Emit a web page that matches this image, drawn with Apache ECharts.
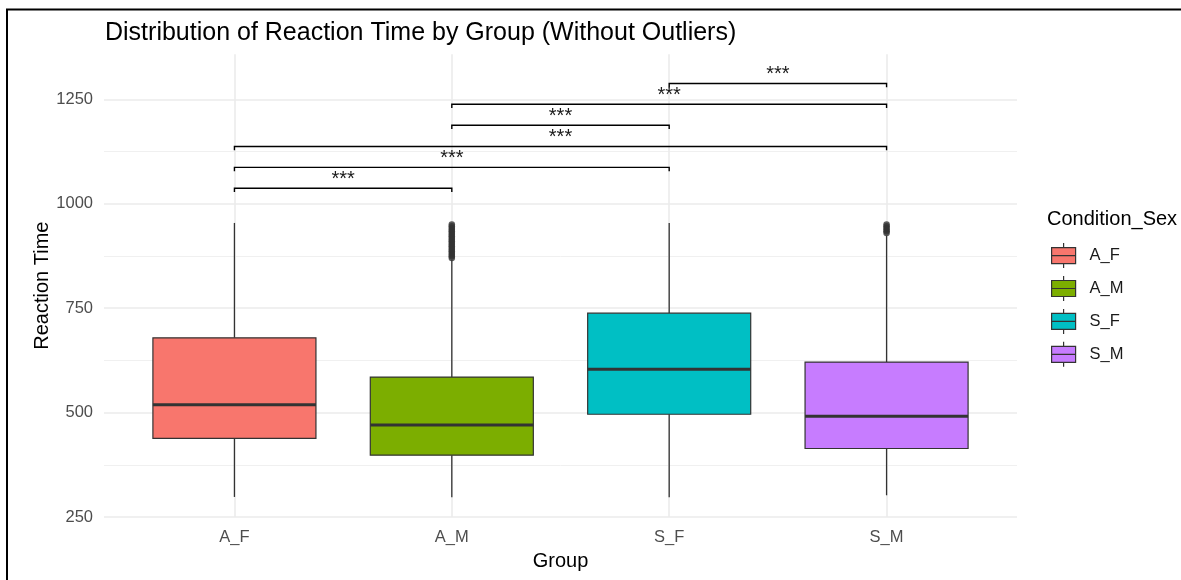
<!DOCTYPE html>
<html><head><meta charset="utf-8">
<script src="https://cdn.jsdelivr.net/npm/echarts@6/dist/echarts.min.js"></script>
<style>html,body{margin:0;padding:0;background:#fff}#c{width:1181px;height:580px}</style>
</head><body><div id="c"></div>
<script>
// ---- data ----
const categories = ['A_F', 'A_M', 'S_F', 'S_M'];
const whiskerLow  = [298, 297, 297, 302];
const quartile1   = [438, 398, 496, 414];
const medians     = [519, 470, 604, 491];
const quartile3   = [679, 585, 738, 621];
const whiskerHigh = [954, 866, 954, 924];
const outliersAM = [870, 874, 878, 882, 886, 890, 894, 898, 902, 906, 910, 914, 918, 922, 926, 930, 934, 938, 942, 946, 950];
const outliersSM = [930, 934, 938, 942, 946, 950];
const bracketFrom   = ['A_F', 'A_F', 'A_F', 'A_M', 'A_M', 'S_F'];
const bracketTo     = ['A_M', 'S_F', 'S_M', 'S_F', 'S_M', 'S_M'];
const bracketY      = [1037, 1087, 1137, 1188, 1238, 1288];
const bracketLabels = ['***', '***', '***', '***', '***', '***'];
const yTicks = [250, 500, 750, 1000, 1250];

// ---- styles ----
const fills = ['#F8766D', '#7CAE00', '#00BFC4', '#C77CFF'];
const FONT = 'Liberation Sans';
const BOX_W = 0.75, TIP = 9;
const pos = name => categories.indexOf(name) + 1;

function renderBox(params, api) {
  const x = api.value(0);
  const lo = api.coord([x, api.value(1)]);
  const a = api.coord([x, api.value(2)]);
  const m = api.coord([x, api.value(3)]);
  const b = api.coord([x, api.value(4)]);
  const hi = api.coord([x, api.value(5)]);
  const w = api.size([BOX_W, 0])[0];
  const cx = m[0], h = w / 2;
  const color = api.visual('color');
  const ls = { stroke: '#333333', lineWidth: 1.3 };
  return { type: 'group', children: [
    { type: 'line', shape: { x1: cx, y1: b[1], x2: cx, y2: hi[1] }, style: ls },
    { type: 'line', shape: { x1: cx, y1: a[1], x2: cx, y2: lo[1] }, style: ls },
    { type: 'rect', shape: { x: cx - h, y: b[1], width: w, height: a[1] - b[1] }, style: { fill: color, stroke: '#333333', lineWidth: 1.2 } },
    { type: 'line', shape: { x1: cx - h, y1: m[1], x2: cx + h, y2: m[1] }, style: { stroke: '#333333', lineWidth: 3 } }
  ]};
}

function renderBracket(params, api) {
  const x1 = api.value(0), x2 = api.value(1), y = api.value(2);
  const p1 = api.coord([x1, y]), p2 = api.coord([x2, y]);
  const tipY = api.coord([x1, y - TIP])[1];
  const label = bracketLabels[params.dataIndex];
  return { type: 'group', children: [
    { type: 'polyline', shape: { points: [[p1[0], tipY], [p1[0], p1[1]], [p2[0], p2[1]], [p2[0], tipY]] },
      style: { stroke: '#000', lineWidth: 1.4, fill: null } },
    { type: 'text', style: { text: label, x: (p1[0] + p2[0]) / 2, y: p1[1] - 9, align: 'center', verticalAlign: 'middle',
      font: '20px "' + FONT + '"', fill: '#1a1a1a' } }
  ]};
}

const boxSeries = categories.map((c, i) => ({
  type: 'custom', name: c, renderItem: renderBox,
  itemStyle: { color: fills[i], borderColor: '#333333', borderWidth: 1 },
  encode: { x: 0, y: [1, 2, 3, 4, 5] },
  data: [[i + 1, whiskerLow[i], quartile1[i], medians[i], quartile3[i], whiskerHigh[i]]],
  z: 3
}));

const iconPath = 'path://M12,0L12,4.5M0,4.5L24,4.5L24,20.5L0,20.5ZM0,12.5L24,12.5M12,20.5L12,25';

const option = {
  animation: false,
  backgroundColor: '#ffffff',
  textStyle: { fontFamily: FONT },
  title: [
    { text: 'Distribution of Reaction Time by Group (Without Outliers)', left: 105, top: 20.5, padding: 0,
      textStyle: { fontFamily: FONT, fontSize: 25, fontWeight: 'normal', color: '#000' } },
    { text: 'Condition_Sex', left: 1047, top: 209, padding: 0,
      textStyle: { fontFamily: FONT, fontSize: 20, fontWeight: 'normal', color: '#000' } }
  ],
  legend: {
    orient: 'vertical', left: 1051, top: 242.5, padding: 0,
    itemWidth: 24, itemHeight: 25, itemGap: 6.7,
    textStyle: { fontFamily: FONT, fontSize: 16.5, color: '#1a1a1a', padding: [0, 0, 0, 9] },
    data: categories.map((c, i) => ({ name: c, icon: iconPath,
      itemStyle: { color: fills[i], borderColor: '#333333', borderWidth: 1.2 } }))
  },
  grid: { left: 104, right: 164, top: 54.2, bottom: 63 },
  xAxis: {
    type: 'value', min: 0.4, max: 4.6, minInterval: 1, maxInterval: 1, splitNumber: 4,
    name: 'Group', nameLocation: 'middle', nameGap: 34, nameMoveOverlap: false,
    nameTextStyle: { fontFamily: FONT, fontSize: 20, color: '#000' },
    axisLine: { show: false }, axisTick: { show: false },
    axisLabel: { margin: 12, fontSize: 16.5, color: '#4D4D4D', fontFamily: FONT,
      formatter: v => Math.abs(v - Math.round(v)) < 1e-6 && categories[Math.round(v) - 1] ? categories[Math.round(v) - 1] : '' },
    splitLine: { show: true, showMinLine: false, showMaxLine: false, lineStyle: { color: '#EBEBEB', width: 1.6 } }
  },
  yAxis: {
    type: 'value', min: 250, max: 1358, interval: 250,
    name: 'Reaction Time', nameLocation: 'middle', nameGap: 52, nameMoveOverlap: false,
    nameTextStyle: { fontFamily: FONT, fontSize: 20, color: '#000' },
    axisLine: { show: false }, axisTick: { show: false },
    axisLabel: { margin: 11, fontSize: 16.5, color: '#4D4D4D', fontFamily: FONT,
      formatter: v => yTicks.indexOf(v) >= 0 ? String(v) : '' },
    splitLine: { show: true, showMaxLine: false, lineStyle: { color: '#EBEBEB', width: 1.6 } },
    minorTick: { show: false, splitNumber: 2 },
    minorSplitLine: { show: true, lineStyle: { color: '#F0F0F0', width: 1 } }
  },
  graphic: [
    { type: 'polyline', shape: { points: [[7, 580], [7, 9.5], [1181, 9.5]] }, style: { stroke: '#000', lineWidth: 2, fill: null }, z: 100 }
  ],
  series: [
    ...boxSeries,
    { type: 'scatter', name: 'outliers_A_M', symbolSize: 6.5, itemStyle: { color: '#333333' }, z: 4,
      data: outliersAM.map(v => [pos('A_M'), v]) },
    { type: 'scatter', name: 'outliers_S_M', symbolSize: 6.5, itemStyle: { color: '#333333' }, z: 4,
      data: outliersSM.map(v => [pos('S_M'), v]) },
    { type: 'custom', name: 'brackets', renderItem: renderBracket, z: 5,
      encode: { x: [0, 1], y: 2 },
      data: bracketY.map((y, i) => [pos(bracketFrom[i]), pos(bracketTo[i]), y]) }
  ]
};
const chart = echarts.init(document.getElementById('c'), null, { renderer: 'canvas' });
chart.setOption(option);
</script></body></html>
